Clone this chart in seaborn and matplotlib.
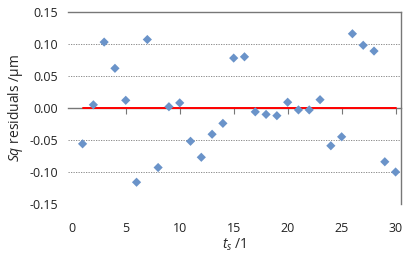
import numpy as np
import pandas as pd
import matplotlib
matplotlib.use("Agg")
import matplotlib.pyplot as plt
import seaborn as sns

# Data
ts = list(range(1, 31))
residuals = [-0.056, 0.005, 0.103, 0.062, 0.012, -0.116, 0.107, -0.093, 0.002, 0.008,
             -0.052, -0.077, -0.041, -0.024, 0.078, 0.080, -0.006, -0.010, -0.012, 0.009,
             -0.003, -0.003, 0.013, -0.059, -0.045, 0.116, 0.098, 0.089, -0.084, -0.100]
yticks = [-0.15, -0.10, -0.05, 0.00, 0.05, 0.10, 0.15]
xticks = [0, 5, 10, 15, 20, 25, 30]

df = pd.DataFrame({"ts": ts, "res": residuals, "zero": [0.0] * len(ts)})

sns.set_style("white")
plt.rcParams['font.family'] = ['Open Sans', 'DejaVu Sans']
plt.rcParams['mathtext.fontset'] = 'custom'
plt.rcParams['mathtext.it'] = 'Open Sans:italic'
plt.rcParams['mathtext.rm'] = 'Open Sans'

fig = plt.figure(figsize=(4.2, 2.58), dpi=100)
ax = fig.add_axes([68 / 420, 1 - 204 / 258, (401 - 68) / 420, (204 - 12) / 258])

# gridlines
for v in [-0.10, -0.05, 0.05, 0.10]:
    ax.axhline(v, color="#7a7a7a", lw=0.6, ls=(0, (1.5, 1.5)), zorder=0)

sns.lineplot(data=df, x="ts", y="zero", color="#ff0000", lw=1.4, ax=ax, zorder=4)
sns.scatterplot(data=df, x="ts", y="res", marker="D", s=22, color="#6a93c9",
                edgecolor="none", ax=ax, zorder=5)

ax.set_xlim(-0.35, 30.5)
ax.set_ylim(-0.15, 0.15)
ax.set_yticks(yticks)
ax.set_yticklabels([f"{v:.2f}" for v in yticks])
ax.tick_params(axis="y", length=0, labelsize=9, colors="#222222", pad=7)

# x axis line with tick marks at y = 0
ax.spines["bottom"].set_position(("data", 0))
ax.spines["bottom"].set_color("#777777")
ax.spines["bottom"].set_linewidth(1.0)
ax.spines["bottom"].set_zorder(1)
ax.set_xticks([5, 10, 15, 20, 25, 30])
ax.tick_params(axis="x", direction="out", length=4, width=0.8, color="#777777",
               labelbottom=False, bottom=True)
ax.set_xlabel("")

ax.spines["left"].set_visible(False)
for side in ["top", "right"]:
    ax.spines[side].set_color("#777777")
    ax.spines[side].set_linewidth(1.0)

# tick labels along the bottom edge
sec = ax.secondary_xaxis(0)
sec.set_xticks(xticks)
sec.set_xticklabels([str(v) for v in xticks])
sec.tick_params(axis="x", length=0, labelsize=9, colors="#222222", pad=13)
for s in sec.spines.values():
    s.set_visible(False)

sec.set_xlabel(r"$t_s$ /1", fontsize=10, labelpad=1)
ax.set_ylabel(r"$Sq$ residuals /µm", fontsize=10, labelpad=3)

fig.savefig("out.png", dpi=100)
